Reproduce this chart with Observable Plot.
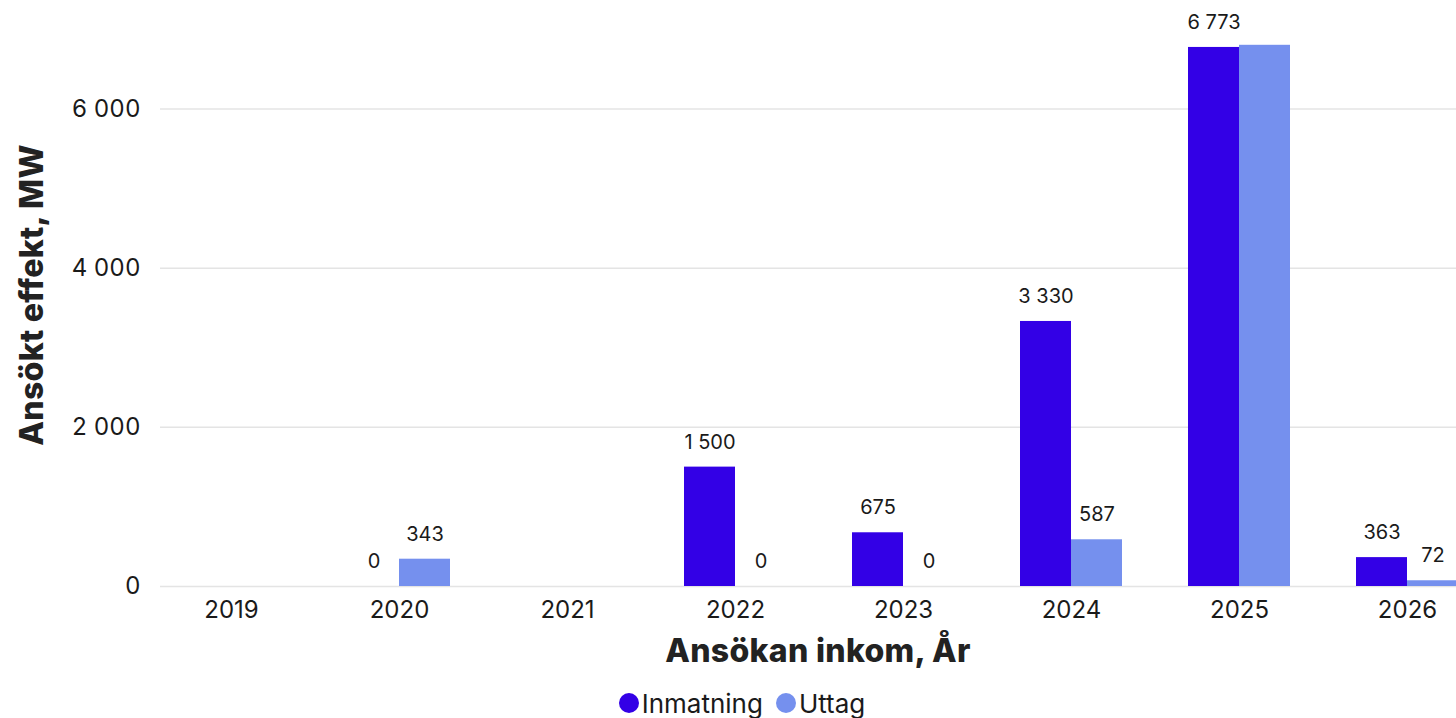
<!DOCTYPE html>
<html><head><meta charset="utf-8">
<script src="https://cdn.jsdelivr.net/npm/d3@7"></script>
<script src="https://cdn.jsdelivr.net/npm/@observablehq/plot@0.6"></script>
<style>
html,body{margin:0;padding:0;background:#fff;overflow:hidden;}
body{font-family:Inter,"Noto Sans",sans-serif;color:#1a1a1a;width:1456px;height:718px;}
#wrap{position:relative;width:1490px;height:718px;}
#chart svg{display:block;}
.xtitle{position:absolute;left:0;width:1636px;top:631px;text-align:center;font-size:32px;font-weight:800;letter-spacing:0.3px;line-height:40px;color:#222;}
.ytitle{position:absolute;left:32px;top:295px;transform:translate(-50%,-50%) rotate(-90deg);white-space:nowrap;font-size:32px;font-weight:800;letter-spacing:0.3px;line-height:40px;color:#222;}
.legend{position:absolute;left:0;width:1484px;top:688px;height:30px;display:flex;justify-content:center;align-items:center;gap:13px;font-size:26px;color:#1a1a1a;}
.legend span{display:inline-flex;align-items:center;gap:3px;}
.legend i{display:inline-block;width:20px;height:20px;border-radius:50%;}
</style>
</head><body>
<div id="wrap">
  <div id="chart"></div>
  <div class="xtitle">Ansökan inkom, År</div>
  <div class="ytitle">Ansökt effekt, MW</div>
  <div class="legend" id="legend"></div>
</div>
<script>
const years = ["2019","2020","2021","2022","2023","2024","2025","2026"];
const inmatning = [null, 0, null, 1500, 675, 3330, 6773, 363];
const uttag = [null, 343, null, 0, 0, 587, 6800, 72];
const seriesNames = ["Inmatning","Uttag"];
const seriesColors = ["#3300e6","#7590ee"];
const yTicks = [0, 2000, 4000, 6000];
const hiddenLabels = ["2025|Uttag"];

const rows = [];
years.forEach((y, i) => {
  if (inmatning[i] != null) rows.push({year: y, series: "Inmatning", value: inmatning[i]});
  if (uttag[i] != null) rows.push({year: y, series: "Uttag", value: uttag[i]});
});
const inm = rows.filter(d => d.series === "Inmatning");
const utt = rows.filter(d => d.series === "Uttag");
const labelRows = r => r.filter(d => !hiddenLabels.includes(d.year + "|" + d.series));

const loc = d3.formatLocale({decimal: ",", thousands: " ", grouping: [3], currency: ["", " kr"]});
const fmt = loc.format(",d");

const chart = Plot.plot({
  width: 1490,
  height: 626,
  marginLeft: 160,
  marginRight: 12,
  marginTop: 5,
  marginBottom: 40,
  style: {fontFamily: "Inter, sans-serif", color: "#1a1a1a", background: "#fff"},
  x: {type: "band", domain: years, paddingInner: 0.394, paddingOuter: 0.11},
  y: {domain: [0, 7300]},
  color: {domain: seriesNames, range: seriesColors},
  marks: [
    Plot.gridY(yTicks, {stroke: "#e4e4e4", strokeOpacity: 1, strokeWidth: 1.5}),
    Plot.barY(inm, {x: "year", y: "value", fill: "series", insetRight: 51}),
    Plot.barY(utt, {x: "year", y: "value", fill: "series", insetLeft: 51}),
    Plot.text(labelRows(inm), {x: "year", y: "value", text: d => fmt(d.value), dx: -25.5, dy: -25, fontSize: 20, fill: "#1a1a1a"}),
    Plot.text(labelRows(utt), {x: "year", y: "value", text: d => fmt(d.value), dx: 25.5, dy: -25, fontSize: 20, fill: "#1a1a1a"}),
    Plot.axisY({ticks: yTicks, tickSize: 0, tickPadding: 20, tickFormat: fmt, fontSize: 24, label: null}),
    Plot.axisX({tickSize: 0, tickPadding: 14, fontSize: 24, label: null})
  ]
});
document.getElementById("chart").appendChild(chart);

const legend = document.getElementById("legend");
seriesNames.forEach((s, i) => {
  const span = document.createElement("span");
  const dot = document.createElement("i");
  dot.style.background = seriesColors[i];
  span.appendChild(dot);
  span.appendChild(document.createTextNode(s));
  legend.appendChild(span);
});
</script>
</body></html>
